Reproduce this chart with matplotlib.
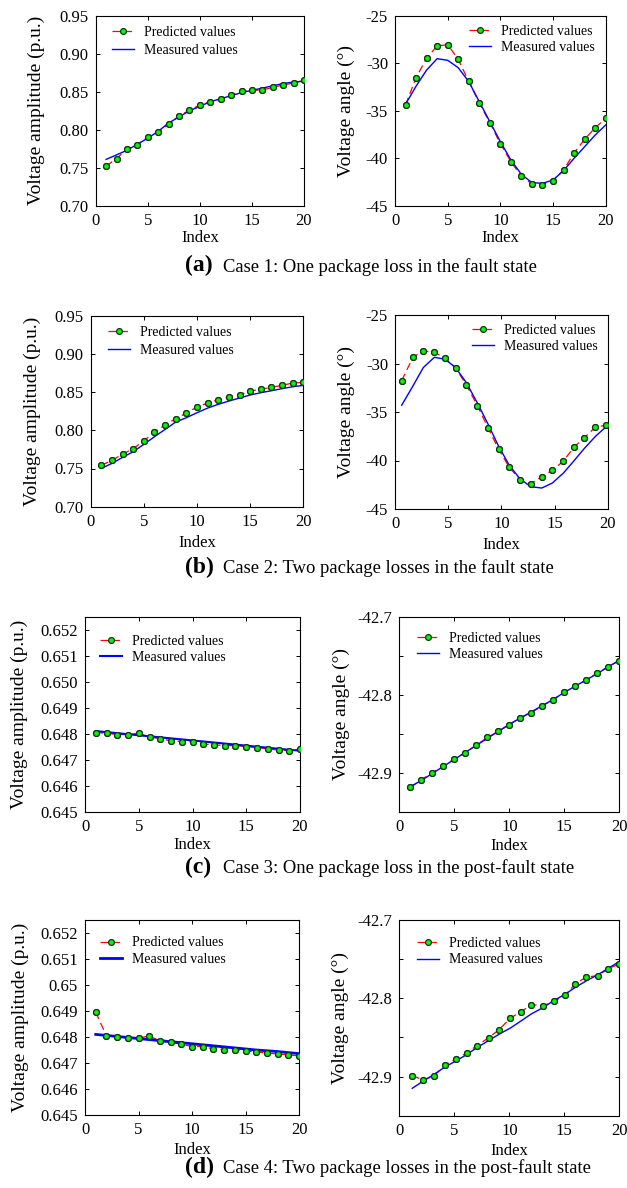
import matplotlib
matplotlib.use('Agg')
import matplotlib.pyplot as plt

plt.rcParams['font.family'] = ['Liberation Serif', 'DejaVu Serif']
plt.rcParams['axes.unicode_minus'] = False

# indices
idx = list(range(1, 21))
idx_b_ang = [0.63, 1.69, 2.66, 3.70, 4.70, 5.70, 6.70, 7.74, 8.78, 9.75,
             10.75, 11.76, 12.76, 13.80, 14.80, 15.83, 16.83, 17.80, 18.84, 19.87]
idx_d_ang = [1.18, 2.15, 3.18, 4.12, 5.15, 6.12, 7.06, 8.12, 9.06, 10.10,
             11.06, 12.00, 13.06, 14.03, 15.06, 16.00, 16.97, 18.03, 18.97, 20.00]

# Case 1
amp1_pred = [0.7523, 0.7620, 0.7747, 0.7800, 0.7905, 0.7970, 0.8072, 0.8186, 0.8257, 0.8327,
             0.8370, 0.8406, 0.8463, 0.8511, 0.8520, 0.8524, 0.8560, 0.8590, 0.8617, 0.8652]
amp1_meas = [0.761, 0.767, 0.773, 0.781, 0.789, 0.798, 0.809, 0.817, 0.825, 0.831,
             0.837, 0.841, 0.845, 0.849, 0.852, 0.855, 0.858, 0.861, 0.863, 0.864]
ang1_pred = [-34.38, -31.50, -29.46, -28.16, -28.02, -29.57, -31.89, -34.17, -36.25, -38.46,
             -40.36, -41.91, -42.68, -42.82, -42.36, -41.24, -39.45, -38.00, -36.78, -35.79]
ang1_meas = [-34.30, -32.40, -30.70, -29.50, -29.67, -30.45, -31.92, -34.03, -36.14, -38.25,
             -40.18, -41.70, -42.57, -42.64, -42.29, -41.30, -40.00, -38.78, -37.55, -36.49]

# Case 2
amp2_pred = [0.7541, 0.7606, 0.7689, 0.7759, 0.7864, 0.7973, 0.8073, 0.8152, 0.8226, 0.8305,
             0.8357, 0.8400, 0.8440, 0.8466, 0.8514, 0.8536, 0.8562, 0.8588, 0.8619, 0.8627]
amp2_meas = [0.7502, 0.7567, 0.7646, 0.7720, 0.7816, 0.7916, 0.8012, 0.8108, 0.8165, 0.8230,
             0.8291, 0.8340, 0.8383, 0.8422, 0.8462, 0.8492, 0.8518, 0.8545, 0.8570, 0.8588]
ang2_pred = [-31.76, -29.36, -28.70, -28.84, -29.46, -30.45, -32.20, -34.33, -36.70, -38.86,
             -40.71, -41.98, -42.39, -41.67, -41.02, -40.06, -38.62, -37.66, -36.56, -36.36]
ang2_meas = [-34.30, -32.31, -30.42, -29.36, -29.56, -30.42, -31.96, -34.06, -36.32, -38.55,
             -40.50, -41.90, -42.70, -42.84, -42.32, -41.30, -40.03, -38.76, -37.52, -36.49]

# Case 3
amp3_pred = [0.648044, 0.648018, 0.647967, 0.647967, 0.648018, 0.647864, 0.647813, 0.647723,
             0.647697, 0.647697, 0.647607, 0.647569, 0.647543, 0.647543, 0.647505, 0.647466,
             0.647415, 0.647376, 0.647338, 0.647415]
amp3_meas = [0.64810, 0.64806, 0.64802, 0.64798, 0.64794, 0.64790, 0.64786, 0.64782, 0.64778,
             0.64774, 0.64770, 0.64766, 0.64762, 0.64758, 0.64754, 0.64750, 0.64746, 0.64742,
             0.64738, 0.64735]
ang3_pred = [-42.9189, -42.9090, -42.9000, -42.8914, -42.8824, -42.8742, -42.8647, -42.8548,
             -42.8471, -42.8385, -42.8295, -42.8230, -42.8144, -42.8062, -42.7968, -42.7890,
             -42.7809, -42.7723, -42.7641, -42.7563]
ang3_meas = [-42.918, -42.910, -42.901, -42.892, -42.883, -42.874, -42.865, -42.856, -42.847,
             -42.838, -42.830, -42.822, -42.814, -42.806, -42.797, -42.789, -42.781, -42.773,
             -42.764, -42.756]

# Case 4
amp4_pred = [0.648956, 0.648044, 0.648006, 0.647967, 0.647954, 0.648044, 0.647839, 0.647800,
             0.647723, 0.647633, 0.647633, 0.647543, 0.647517, 0.647517, 0.647466, 0.647428,
             0.647376, 0.647350, 0.647312, 0.647273]
amp4_meas = [0.64810, 0.64806, 0.64802, 0.64798, 0.64794, 0.64790, 0.64786, 0.64782, 0.64778,
             0.64774, 0.64770, 0.64766, 0.64762, 0.64758, 0.64754, 0.64750, 0.64747, 0.64744,
             0.64740, 0.64736]
ang4_pred = [-42.8987, -42.9043, -42.8991, -42.8854, -42.8776, -42.8699, -42.8604, -42.8505,
             -42.8402, -42.8252, -42.8174, -42.8080, -42.8097, -42.8041, -42.7963, -42.7817,
             -42.7731, -42.7710, -42.7628, -42.7559]
ang4_meas = [-42.915, -42.906, -42.897, -42.888, -42.880, -42.872, -42.863, -42.854, -42.846,
             -42.838, -42.829, -42.820, -42.812, -42.803, -42.795, -42.786, -42.778, -42.770,
             -42.762, -42.753]

# ticks
x_ticks = [0, 5, 10, 15, 20]
amp_ticks_ab = [0.70, 0.75, 0.80, 0.85, 0.90, 0.95]
amp_labels_ab = ['0.70', '0.75', '0.80', '0.85', '0.90', '0.95']
ang_ticks_ab = [-45, -40, -35, -30, -25]
ang_labels_ab = ['-45', '-40', '-35', '-30', '-25']
amp_ticks_cd = [0.645, 0.646, 0.647, 0.648, 0.649, 0.650, 0.651, 0.652]
amp_labels_c = ['0.645', '0.646', '0.647', '0.648', '0.649', '0.650', '0.651', '0.652']
amp_labels_d = ['0.645', '0.646', '0.647', '0.648', '0.649', '0.65', '0.651', '0.652']
ang_ticks_cd = [-42.9, -42.85, -42.8, -42.75, -42.7]
ang_labels_cd = ['-42.9', '', '-42.8', '', '-42.7']

captions = [('(a)', 'Case 1: One package loss in the fault state'),
            ('(b)', 'Case 2: Two package losses in the fault state'),
            ('(c)', 'Case 3: One package loss in the post-fault state'),
            ('(d)', 'Case 4: Two package losses in the post-fault state')]

W, H = 627, 1188
fig = plt.figure(figsize=(W / 100, H / 100), dpi=100)


def make_ax(l, t, r, b):
    return fig.add_axes([l / W, 1 - b / H, (r - l) / W, (b - t) / H])


def panel(ax, xp, pred, xm, meas, ylim, yticks, ylabels, ylab, leg_loc, leg_anchor,
          ylab_x, xlab_y, blue_lw=1.0, spacing=0.37):
    l1, = ax.plot(xp, pred, color='red', ls=(0, (6, 3.5)), lw=0.9,
                  marker='o', ms=4.2, mfc='#11ee11', mec='#0a3a0a', mew=0.9, zorder=2)
    l2, = ax.plot(xm, meas, color='#0000ff', lw=blue_lw, zorder=2.5)
    ax.plot(xp, pred, ls='none', marker='o', ms=4.2, mfc='#11ee11', mec='#0a3a0a',
            mew=0.9, zorder=3)
    ax.set_xlim(0, 20)
    ax.set_ylim(*ylim)
    ax.set_xticks(x_ticks)
    ax.set_yticks(yticks)
    ax.set_yticklabels(ylabels)
    ax.tick_params(direction='in', top=True, right=True, length=3, width=0.7,
                   labelsize=12, pad=5)
    for s in ax.spines.values():
        s.set_linewidth(0.8)
    ax.set_xlabel('Index', fontsize=12)
    ax.set_ylabel(ylab, fontsize=14)
    ax.xaxis.set_label_coords(0.5, xlab_y)
    ax.yaxis.set_label_coords(ylab_x, 0.5)
    ax.legend([l1, l2], ['Predicted values', 'Measured values'], loc=leg_loc,
              bbox_to_anchor=leg_anchor, frameon=False, fontsize=10, numpoints=1,
              handlelength=1.6, handletextpad=0.7, labelspacing=spacing,
              borderpad=0, borderaxespad=0)


amp_lab = 'Voltage amplitude (p.u.)'
ang_lab = 'Voltage angle (°)'

# (a)
ax = make_ax(95.7, 16, 304, 205.7)
panel(ax, idx, amp1_pred, idx, amp1_meas, (0.70, 0.95), amp_ticks_ab, amp_labels_ab,
      amp_lab, 'upper left', (0.078, 0.947), -0.243, -0.128)
ax = make_ax(395, 16, 605.7, 205.7)
panel(ax, idx, ang1_pred, idx, ang1_meas, (-45, -25), ang_ticks_ab, ang_labels_ab,
      ang_lab, 'upper right', (0.949, 0.951), -0.19, -0.128, spacing=0.2)

# (b)
ax = make_ax(90.7, 315.7, 303.3, 506.7)
panel(ax, idx, amp2_pred, idx, amp2_meas, (0.70, 0.95), amp_ticks_ab, amp_labels_ab,
      amp_lab, 'upper left', (0.081, 0.946), -0.235, -0.148)
ax = make_ax(395, 315, 607.7, 509)
panel(ax, idx_b_ang, ang2_pred, idx_b_ang, ang2_meas, (-45, -25), ang_ticks_ab,
      ang_labels_ab, ang_lab, 'upper right', (0.954, 0.955), -0.188, -0.143, spacing=0.2)

# (c)
ax = make_ax(85, 616.7, 300, 811.7)
panel(ax, idx, amp3_pred, idx, amp3_meas, (0.645, 0.6525), amp_ticks_cd, amp_labels_c,
      amp_lab, 'upper left', (0.07, 0.908), -0.264, -0.128, blue_lw=1.5, spacing=0.25)
ax = make_ax(399.3, 616.7, 619.3, 811.7)
panel(ax, idx, ang3_pred, idx, ang3_meas, (-42.95, -42.7), ang_ticks_cd, ang_labels_cd,
      ang_lab, 'upper left', (0.079, 0.922), -0.224, -0.135, spacing=0.2)

# (d)
ax = make_ax(85, 920, 299, 1115)
panel(ax, idx, amp4_pred, idx, amp4_meas, (0.645, 0.6525), amp_ticks_cd, amp_labels_d,
      amp_lab, 'upper left', (0.07, 0.916), -0.264, -0.137, blue_lw=2.0, spacing=0.25)
ax = make_ax(399.3, 920, 619.3, 1115.7)
panel(ax, idx_d_ang, ang4_pred, idx_d_ang, ang4_meas, (-42.95, -42.7), ang_ticks_cd,
      ang_labels_cd, ang_lab, 'upper left', (0.079, 0.913), -0.228, -0.14, spacing=0.25)

# captions
cap_y = [271.5, 573, 873, 1172.7]
for (tag, txt), y in zip(captions, cap_y):
    fig.text(185 / W, 1 - y / H, tag, fontsize=17, fontweight='bold', va='baseline', ha='left')
    fig.text(223 / W, 1 - y / H, txt, fontsize=13.4, va='baseline', ha='left')

fig.savefig('out.png', dpi=100)
